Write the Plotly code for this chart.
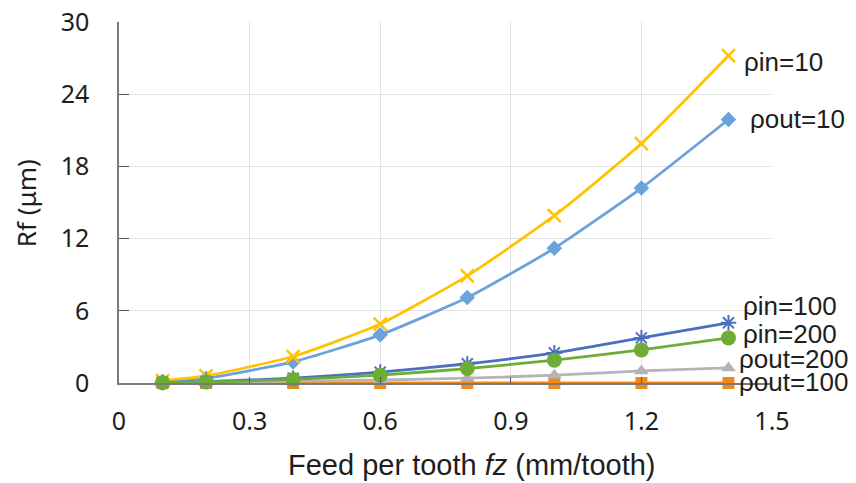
import plotly.graph_objects as go

fz = [0.1, 0.2, 0.4, 0.6, 0.8, 1.0, 1.2, 1.4]
rho_in_10 = [0.2, 0.6, 2.2, 4.9, 8.9, 13.9, 19.9, 27.2]
rho_out_10 = [0.1, 0.4, 1.75, 4.0, 7.1, 11.2, 16.2, 21.9]
rho_in_100 = [0.05, 0.12, 0.4, 0.9, 1.6, 2.5, 3.75, 5.0]
rho_in_200 = [0.03, 0.08, 0.3, 0.65, 1.2, 1.9, 2.75, 3.75]
rho_out_200 = [0.01, 0.04, 0.15, 0.25, 0.4, 0.65, 1.0, 1.25]
rho_out_100 = [0.0, 0.0, 0.0, 0.0, 0.0, 0.0, 0.0, 0.0]

labels = ["ρin=10", "ρout=10", "ρin=100", "ρin=200", "ρout=200", "ρout=100"]
label_x = [1.431, 1.445, 1.428, 1.428, 1.42, 1.42]
label_y = [26.7, 21.9, 6.4, 4.1, 2.0, 0.1]

x_ticks = [0, 0.3, 0.6, 0.9, 1.2, 1.5]
x_tick_text = ["0", "0.3", "0.6", "0.9", "1.2", "1.5"]
y_ticks = [0, 6, 12, 18, 24, 30]
x_title = "Feed per tooth <i>fz</i> (mm/tooth)"
y_title = "Rf (μm)"

fig = go.Figure()

series = [
    (rho_out_100, "#F08A1C", "square", 12, 0),
    (rho_out_200, "#B4B4B4", "triangle-up", 13, 0),
    (rho_out_10, "#6AA3DB", "diamond", 12, 0),
    (rho_in_10, "#FFC400", "x-thin-open", 13, 2.5),
    (rho_in_100, "#4A6FC0", "asterisk-open", 13, 2),
    (rho_in_200, "#6DAD35", "circle", 15, 0),
]
for ys, color, sym, size, lw in series:
    fig.add_trace(go.Scatter(
        x=fz, y=ys, mode="lines+markers",
        line=dict(color=color, width=2.8, shape="spline", smoothing=0.5),
        marker=dict(symbol=sym, size=size, color=color,
                    line=dict(color=color, width=lw)),
        cliponaxis=False, showlegend=False,
    ))

for t, lx, ly in zip(labels, label_x, label_y):
    fig.add_annotation(x=lx, y=ly, text=t, showarrow=False, xanchor="left",
                       yanchor="middle",
                       font=dict(family="Liberation Sans, Arial", size=26, color="#1e1e1e"))

# axis titles
fig.add_annotation(xref="paper", yref="paper", x=0.54, y=-0.227, text=x_title,
                   showarrow=False, xanchor="center", yanchor="middle",
                   font=dict(family="Liberation Sans, Arial", size=29, color="#1e1e1e"))
fig.add_annotation(xref="paper", yref="paper", x=-0.143, y=0.497, text=y_title,
                   textangle=-90, showarrow=False, xanchor="center", yanchor="middle",
                   font=dict(family="Noto Sans, Open Sans", size=26, color="#1e1e1e"))

fig.update_layout(
    width=856, height=483,
    margin=dict(l=111, r=92, t=14, b=108),
    plot_bgcolor="white", paper_bgcolor="white",
    font=dict(family="Noto Sans, Open Sans", size=25, color="#1e1e1e"),
    xaxis=dict(
        range=[0, 1.5], tickvals=x_ticks, ticktext=x_tick_text,
        showgrid=True, gridcolor="#E3E3E3", gridwidth=1,
        showline=True, linecolor="#7a7a7a", linewidth=1.5,
        ticks="inside", ticklen=6, tickcolor="#555",
        zeroline=False, ticklabelstandoff=15, automargin=False,
        ticklabeloverflow="allow",
    ),
    yaxis=dict(
        range=[0, 30], tickvals=y_ticks,
        showgrid=True, gridcolor="#E3E3E3", gridwidth=1,
        showline=True, linecolor="#7a7a7a", linewidth=1.5,
        ticks="inside", ticklen=10, tickcolor="#555",
        zeroline=False, ticklabelstandoff=23, automargin=False,
        ticklabeloverflow="allow",
    ),
)

fig.write_html("out.html")
